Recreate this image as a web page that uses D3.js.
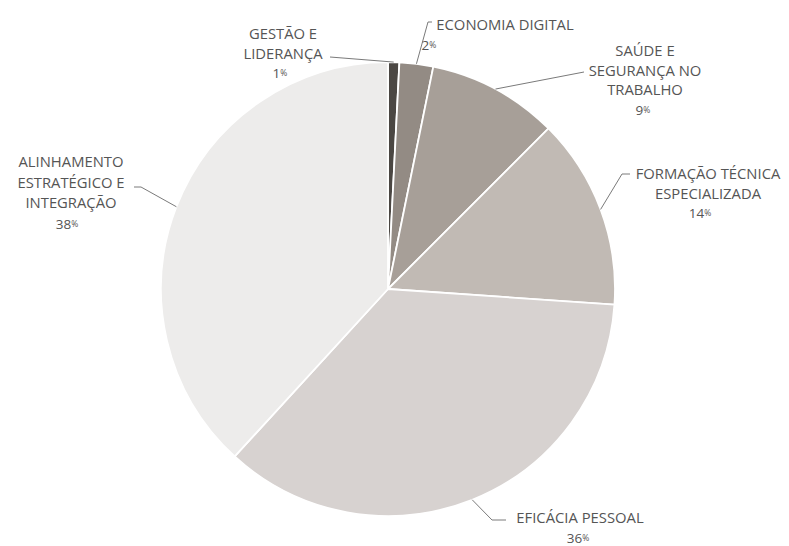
<!DOCTYPE html>
<html>
<head>
<meta charset="utf-8">
<script src="https://cdn.jsdelivr.net/npm/d3@7"></script>
<style>
  html, body { margin: 0; padding: 0; background: #fff; }
  svg { display: block; }
  .lbl { font-family: "Open Sans", "DejaVu Sans", sans-serif; font-size: 14.8px; fill: #555; }
</style>
</head>
<body>
<div id="chart"></div>
<script>
// categorias (sentido horário a partir do topo)
var categories = [
    "GESTÃO E LIDERANÇA",
    "ECONOMIA DIGITAL",
    "SAÚDE E SEGURANÇA NO TRABALHO",
    "FORMAÇÃO TÉCNICA ESPECIALIZADA",
    "EFICÁCIA PESSOAL",
    "ALINHAMENTO ESTRATÉGICO E INTEGRAÇÃO"
];
// linhas do rótulo de cada fatia
var labelLines = [
    ["GESTÃO E", "LIDERANÇA"],
    ["ECONOMIA DIGITAL"],
    ["SAÚDE E", "SEGURANÇA NO", "TRABALHO"],
    ["FORMAÇÃO TÉCNICA", "ESPECIALIZADA"],
    ["EFICÁCIA PESSOAL"],
    ["ALINHAMENTO", "ESTRATÉGICO E", "INTEGRAÇÃO"]
];
// percentagens
var values = [0.8, 2.4, 9.3, 13.6, 35.7, 38.2];
var colors = ["#4b4743", "#938b84", "#a79f98", "#c1bab4", "#d7d2d0", "#edeceb"];

var width = 789, height = 546;
var cx = 388, cy = 289, radius = 227;

// posição dos rótulos: x central, 1a linha de base, entrelinha, cotovelo e fim da linha guia, x do %
var labelLayout = [
    { x: 283, y: 39, lh: 19.5, elbow: [330, 57], end: [330, 57], pctX: 280 },
    { x: 505, y: 30, lh: 20, elbow: [428, 22], end: [432, 22], pctX: 429 },
    { x: 645, y: 56, lh: 19.5, elbow: [584, 72], end: [584, 72], pctX: 643 },
    { x: 708, y: 179, lh: 19.5, elbow: [622, 174], end: [630, 174], pctX: 700 },
    { x: 580, y: 523, lh: 20, elbow: [492, 520], end: [506, 520], pctX: 578 },
    { x: 71, y: 167, lh: 20.5, elbow: [141, 187], end: [134, 187], pctX: 67 }
];

var svg = d3.select("#chart").append("svg")
    .attr("width", width)
    .attr("height", height);

var g = svg.append("g").attr("transform", "translate(" + cx + "," + cy + ")");

var pie = d3.pie().sort(null).value(function (d) { return d; });
var arcs = pie(values);

var arc = d3.arc().innerRadius(0).outerRadius(radius);
var edge = d3.arc().innerRadius(radius).outerRadius(radius);

//fatias
g.selectAll("path.slice")
    .data(arcs)
    .enter()
    .append("path")
    .attr("class", "slice")
    .attr("d", arc)
    .attr("fill", function (d, i) { return colors[i]; })
    .attr("stroke", "#fff")
    .attr("stroke-width", 1.8)
    .attr("stroke-linejoin", "round");

//linhas guia
var guides = svg.append("g");
arcs.forEach(function (d, i) {
    var p = edge.centroid(d);
    var L = labelLayout[i];
    guides.append("path")
        .attr("d", d3.line()([[cx + p[0], cy + p[1]], L.elbow, L.end]))
        .attr("fill", "none")
        .attr("stroke", "#7a7a7a")
        .attr("stroke-width", 1);
});

//rótulos
var labels = svg.append("g");
labelLines.forEach(function (lines, i) {
    var L = labelLayout[i];
    lines.forEach(function (t, j) {
        labels.append("text")
            .attr("class", "lbl")
            .attr("x", L.x)
            .attr("y", L.y + j * L.lh)
            .attr("text-anchor", "middle")
            .text(t);
    });
    var pct = labels.append("text")
        .attr("class", "lbl")
        .attr("x", L.pctX)
        .attr("y", L.y + lines.length * L.lh)
        .attr("text-anchor", "middle")
        .style("font-size", "13.5px");
    pct.append("tspan").text(Math.round(values[i]));
    pct.append("tspan").text("%").style("font-size", "8.5px").attr("dy", -2);
});
</script>
</body>
</html>
